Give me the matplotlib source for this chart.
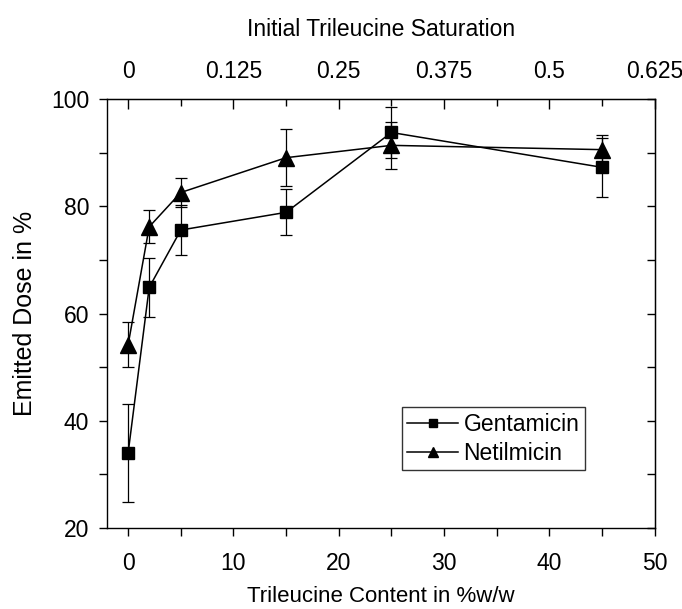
import numpy as np
import matplotlib
matplotlib.use("Agg")
import matplotlib.pyplot as plt
from matplotlib.ticker import MultipleLocator, NullFormatter, FixedLocator

plt.rcParams['font.family'] = ['Liberation Sans', 'DejaVu Sans']
plt.rcParams['font.size'] = 16.5

# trileucine content in %w/w
content = [0, 2, 5, 15, 25, 45]

# emitted dose (%) and error
genta = [34.0, 64.9, 75.6, 78.9, 93.8, 87.3]
genta_err = [9.1, 5.5, 4.7, 4.3, 4.8, 5.5]
netil = [54.2, 76.2, 82.6, 89.1, 91.4, 90.6]
netil_err = [4.2, 3.1, 2.7, 5.3, 4.4, 2.8]

# top axis labels (saturation)
sat_ticks = [0, 0.125, 0.25, 0.375, 0.5, 0.625]
sat_labels = ['0', '0.125', '0.25', '0.375', '0.5', '0.625']

fig = plt.figure(figsize=(6.82, 6.09), dpi=100)
ax = fig.add_axes([0.157, 0.133, 0.803, 0.704])

# error bars first, then connecting lines and markers
ax.errorbar(content, genta, yerr=genta_err, fmt='none', ecolor='black',
            elinewidth=0.9, capsize=4, capthick=0.9)
ax.errorbar(content, netil, yerr=netil_err, fmt='none', ecolor='black',
            elinewidth=0.9, capsize=4, capthick=0.9)
ax.plot(content, genta, color='black', lw=1.1, marker='s', ms=8.5,
        label='Gentamicin')
ax.plot(content, netil, color='black', lw=1.1, marker='^', ms=12,
        label='Netilmicin')

ax.set_xlim(-2, 50)
ax.set_ylim(20, 100)
ax.xaxis.set_major_locator(MultipleLocator(10))
ax.xaxis.set_minor_locator(MultipleLocator(5))
ax.yaxis.set_major_locator(MultipleLocator(20))
ax.yaxis.set_minor_locator(MultipleLocator(10))
ax.tick_params(which='both', direction='out', length=6, width=1,
               top=False, right=False)
ax.tick_params(axis='x', pad=11)
ax.tick_params(axis='y', pad=7)

ax.set_xlabel('Trileucine Content in %w/w', fontsize=16, labelpad=8)
ax.set_ylabel('Emitted Dose in %', fontsize=18, labelpad=10)

# top axis: initial trileucine saturation
top = ax.secondary_xaxis('top', functions=(lambda x: x / 80.0, lambda s: s * 80.0))
top.xaxis.set_major_locator(FixedLocator(sat_ticks))
top.set_xticklabels(sat_labels)
top.xaxis.set_minor_locator(MultipleLocator(0.0625))
top.tick_params(which='major', direction='in', length=7, width=1, pad=12)
top.tick_params(which='minor', direction='in', length=5, width=1)
top.set_xlabel('Initial Trileucine Saturation', labelpad=17)

# right axis: inward ticks, no labels
right = ax.secondary_yaxis('right')
right.yaxis.set_major_locator(MultipleLocator(10))
right.yaxis.set_major_formatter(NullFormatter())
right.tick_params(direction='in', length=6, width=1)

for sp in ax.spines.values():
    sp.set_linewidth(1)

leg = ax.legend(loc='upper left', bbox_to_anchor=(0.538, 0.282),
                frameon=True, fancybox=False, edgecolor='black',
                markerscale=0.6, handlelength=2.2, handletextpad=0.25,
                borderpad=0.25, labelspacing=0.25, borderaxespad=0)
leg.get_frame().set_linewidth(1)

fig.savefig('out.png', dpi=100)
